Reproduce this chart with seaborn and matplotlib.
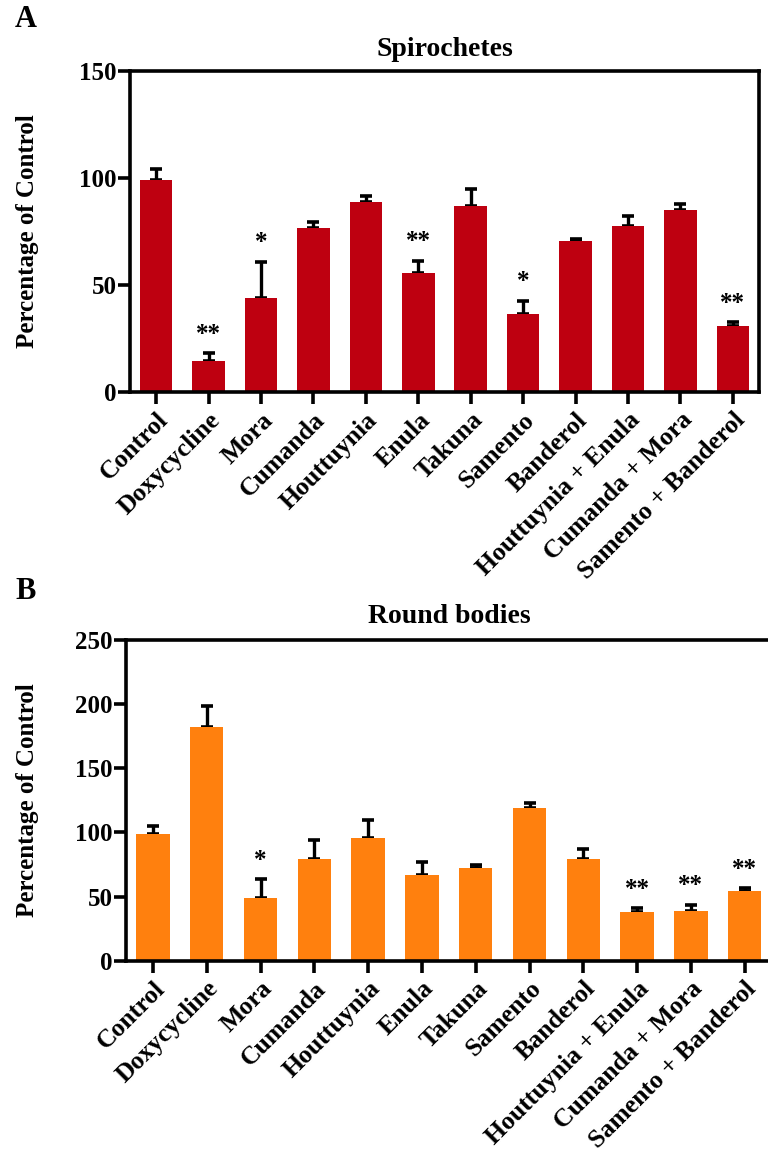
import matplotlib
matplotlib.use("Agg")
import matplotlib.pyplot as plt
import seaborn as sns
import numpy as np
import pandas as pd

categories = ["Control", "Doxycycline", "Mora", "Cumanda", "Houttuynia", "Enula",
              "Takuna", "Samento", "Banderol", "Houttuynia + Enula",
              "Cumanda + Mora", "Samento + Banderol"]

spiro_mean = [99, 14.5, 44, 76.5, 88.7, 55.5, 87, 36.5, 70.5, 77.5, 85, 31]
spiro_err = [5, 3.7, 17, 3, 3, 6, 8, 6.3, 1.2, 4.7, 3, 1.7]
spiro_stars = ["", "**", "*", "", "", "**", "", "*", "", "", "", "**"]

round_mean = [99, 182, 49, 79, 95.5, 67, 72, 118.7, 79, 38, 39, 54]
round_err = [5.7, 16.4, 14.3, 15.2, 14, 9.8, 2.3, 4, 8, 2.8, 4.7, 2.6]
round_stars = ["", "", "*", "", "", "", "", "", "", "**", "**", "**"]

sns.set_theme(style="white")
plt.rcParams['font.family'] = ['Liberation Serif', 'DejaVu Serif']
plt.rcParams['font.weight'] = 'bold'
plt.rcParams['text.color'] = 'black'
plt.rcParams['axes.labelcolor'] = 'black'
plt.rcParams['xtick.color'] = 'black'
plt.rcParams['ytick.color'] = 'black'

fig = plt.figure(figsize=(7.68, 11.53), dpi=100)


def panel(rect, means, errs, stars, color, title, ymax, ystep, letter, letter_y,
          ylabel_x, title_pad):
    ax = fig.add_axes(rect)
    df = pd.DataFrame({"cat": categories, "val": means})
    sns.barplot(data=df, x="cat", y="val", color=color, saturation=1, width=0.62,
                ax=ax, zorder=2, linewidth=0)
    x = np.arange(len(categories))
    ax.errorbar(x, means, yerr=[np.zeros(len(means)), errs], fmt="none",
                ecolor="black", elinewidth=2.4, capsize=4.3, capthick=2.6, zorder=1)
    for i, (m, e, s) in enumerate(zip(means, errs, stars)):
        if s:
            ax.annotate(s, xy=(i, m + e), xytext=(0, 9), textcoords="offset points",
                        ha="center", va="baseline", fontsize=18, fontweight="bold",
                        color="black")
    ax.set_xlim(-0.5, len(categories) - 0.5)
    ax.set_ylim(0, ymax)
    ax.set_yticks(np.arange(0, ymax + 1, ystep))
    ax.set_xlabel("")
    ax.set_ylabel("Percentage of Control", fontsize=18, fontweight="bold", color="black")
    ax.yaxis.set_label_coords(ylabel_x, 0.5)
    ax.set_title(title, fontsize=20, fontweight="bold", pad=title_pad, color="black")
    ax.set_xticks(x)
    ax.set_xticklabels(categories, rotation=45, ha="right", rotation_mode="anchor",
                       fontsize=18.5, fontweight="bold", color="black")
    for lab in ax.get_yticklabels():
        lab.set_fontsize(18)
        lab.set_fontweight("bold")
        lab.set_color("black")
    for sp in ax.spines.values():
        sp.set_visible(True)
        sp.set_linewidth(2.6)
        sp.set_color("black")
    ax.tick_params(axis="both", direction="out", length=8.6, width=2.6, color="black",
                   labelcolor="black", bottom=True, left=True)
    ax.tick_params(axis="y", pad=1)
    ax.tick_params(axis="x", pad=3)
    ax.grid(False)
    fig.text(0.0195, letter_y, letter, fontsize=22, fontweight="bold", va="center",
             color="black")
    return ax


panel([0.1693, 0.6598, 0.819, 0.2787], spiro_mean, spiro_err, spiro_stars,
      "#BE0010", "Spirochetes", 150, 50, "A", 0.9827, -0.145, 11)
panel([0.1641, 0.1668, 0.8406, 0.2781], round_mean, round_err, round_stars,
      "#FF800E", "Round bodies", 250, 50, "B", 0.4868, -0.135, 12)

fig.savefig("out.png", dpi=100)
